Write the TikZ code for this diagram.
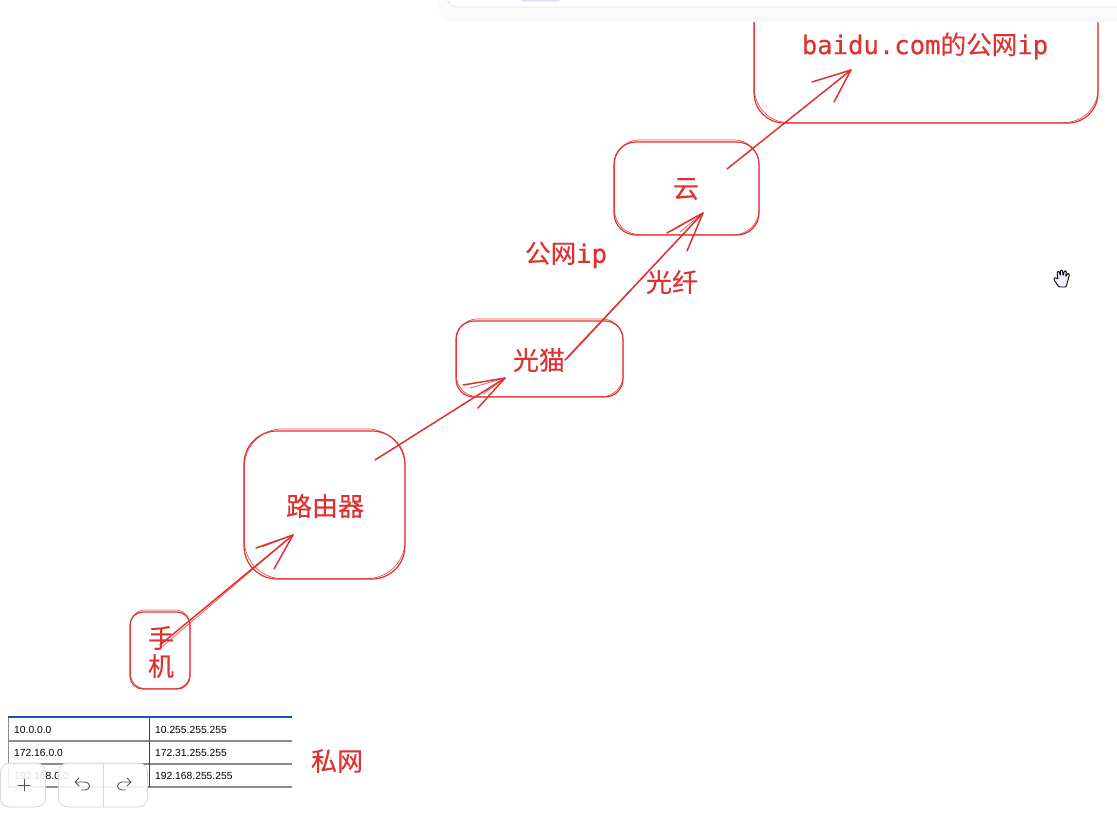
\documentclass[tikz,border=0pt]{standalone}
\usepackage{fontspec}
\setmainfont{Liberation Sans}
\newfontfamily\cjk[FakeBold=0.25]{Noto Sans CJK SC}
\newfontfamily\codefont[FakeBold=0.5]{DejaVu Sans Mono}
\usetikzlibrary{positioning}
\definecolor{sketchred}{RGB}{224, 49, 49}
\definecolor{tableblue}{RGB}{20, 80, 190}
\definecolor{tablegray}{RGB}{140, 140, 140}
\definecolor{panelline}{RGB}{226, 226, 230}
\definecolor{btnline}{RGB}{214, 214, 214}
\definecolor{iconcol}{RGB}{85, 85, 85}
\tikzset{
  netbox/.style={draw=sketchred, line width=1.2pt, inner sep=0pt},
  rough/.style={draw=sketchred, line width=0.7pt, opacity=0.85},
  link/.style={draw=sketchred, line width=1.5pt, line cap=round, line join=round},
  label/.style={text=sketchred, font=\cjk\fontsize{26}{28}\selectfont, inner sep=0pt},
  iplabel/.style={text=sketchred, font=\codefont\fontsize{25.6}{28}\selectfont, inner sep=0pt},
  cell/.style={anchor=west, inner sep=0pt, font=\fontsize{10.3}{12}\selectfont},
  toolbtn/.style={draw=btnline, line width=0.8pt, fill=white, fill opacity=0.88, rounded corners=9pt, inner sep=0pt},
  icon/.style={draw=iconcol, line width=0.9pt, line cap=round, line join=round}
}
\begin{document}
\begin{tikzpicture}[x=1pt, y=-1pt]
  \useasboundingbox (0,0) rectangle (1117,815);
  % Boxes
  \node[netbox, rounded corners=13pt, minimum width=60pt, minimum height=77pt] (phone) at (160,650.5) {};
  \node[netbox, rounded corners=33pt, minimum width=161pt, minimum height=148pt] (router) at (324.5,505) {};
  \node[netbox, rounded corners=18pt, minimum width=167pt, minimum height=76pt] (modem) at (539.5,359) {};
  \node[netbox, rounded corners=22pt, minimum width=145pt, minimum height=93pt] (cloud) at (686.5,188.5) {};
  \node[netbox, rounded corners=30pt, minimum width=344pt, minimum height=153pt] (baidu) at (926,46.5) {};
  % Second pencil stroke
  \foreach \n/\r in {phone/15,router/38,modem/21,cloud/25,baidu/34}
    \draw[rough, rounded corners=\r pt] ([shift={(1,-1)}]\n.south west) rectangle ([shift={(-0.5,-1.5)}]\n.north east);
  % Box labels
  \node[label, align=center] (phonetext) at (161,652) {\baselineskip=31pt 手\\机};
  \node[label] (routertext) at (325,506) {路由器};
  \node[label] (modemtext) at (539,360) {光猫};
  \node[label] (cloudtext) at (686,189) {云};
  \node[iplabel] (baidutext) at (925,46) {baidu.com{\cjk 的公网}ip};
  \node[iplabel] (publictext) at (566,255) {{\cjk 公网}ip};
  \node[label] (fibretext) at (672,282) {光纤};
  \node[label] (privatetext) at (337,761) {私网};
  % Connector ends
  \coordinate (phoneout) at (160,645);
  \coordinate (routerin) at (293,535);
  \coordinate (routerout) at (375,460);
  \coordinate (modemin) at (505,378);
  \coordinate (modemout) at (565,360);
  \coordinate (cloudin) at (703,213);
  \coordinate (cloudout) at (727,169);
  \coordinate (baiduin) at (851,70);
  % Connectors with open heads
  \draw[link] (phoneout) -- (routerin);
  \draw[rough] ([shift={(3,1)}]phoneout) -- (routerin);
  \draw[link] (256,548) -- (routerin) -- (274,569);
  \draw[rough] (262,547) -- (routerin);
  \draw[link] (routerout) -- (modemin);
  \draw[link] (463,385) -- (modemin) -- (478,408);
  \draw[rough] (483,394) -- (modemin);
  \draw[rough] (470,388) -- (modemin);
  \draw[link] (modemout) -- (cloudin);
  \draw[rough] (567,359) -- (cloudin);
  \draw[link] (667,233) -- (cloudin) -- (687,251);
  \draw[rough] (675,228) -- (cloudin);
  \draw[rough] (680,232) -- (cloudin);
  \draw[link] (cloudout) -- (baiduin);
  \draw[link] (812,82) -- (baiduin) -- (834,102);
  % Table
  \draw[tablegray, line width=1.2pt] (8,741) -- (292,741) (8,764) -- (292,764) (8,787) -- (292,787);
  \draw[tablegray, line width=0.8pt] (8,717) -- (8,787);
  \draw[black!75, line width=0.8pt] (149,717) -- (149,787);
  \draw[tableblue, line width=1.4pt] (8,717) -- (292,717);
  \node[cell] (startA) at (14,729.5) {10.0.0.0};
  \node[cell] (endA) at (155,729.5) {10.255.255.255};
  \node[cell] (startB) at (14,752.5) {172.16.0.0};
  \node[cell] (endB) at (155,752.5) {172.31.255.255};
  \node[cell] (startC) at (14,775.5) {192.168.0.0};
  \node[cell] (endC) at (155,775.5) {192.168.255.255};
  % Zoom and undo buttons
  \node[toolbtn, minimum width=45pt, minimum height=44pt] (zoombtn) at (23,785) {};
  \node[toolbtn, minimum width=89pt, minimum height=44pt] (historybtn) at (103,785) {};
  \draw[btnline, line width=0.8pt] (historybtn.north) -- (historybtn.south);
  \draw[icon] (18,785) -- (30,785) (24,779) -- (24,791);
  \draw[icon] (79,778) -- (75,782) -- (79,786) (75,782) -- (85,782) .. controls (91,782) and (91,790) .. (85,790) -- (81,790);
  \draw[icon] (127,778) -- (131,782) -- (127,786) (131,782) -- (122,782) .. controls (116,782) and (116,790) .. (122,790) -- (126,790);
  % Top panel
  \fill[black!2, rounded corners=12pt] (439,-20) rectangle (1130,22);
  \draw[draw=panelline, fill=white, line width=0.8pt, rounded corners=10pt] (447,-20) rectangle (1125,7);
  \fill[blue!12, rounded corners=2pt] (521,-4) rectangle (560,1.5);
  % Hand cursor
  \draw[fill=blue!5, line width=0.9pt, line join=round, rounded corners=1pt]
    (1059,287) -- (1054,280) -- (1054,278) -- (1056,277.5) -- (1058,279.5) -- (1057,272) -- (1059,271)
    -- (1060.5,276) -- (1060.5,270) -- (1062.5,270) -- (1063,276) -- (1064.5,270.5) -- (1066.5,271)
    -- (1065.5,277) -- (1068,273) -- (1069.5,274) -- (1067.5,282) -- (1066,287) -- cycle;
\end{tikzpicture}
\end{document}
